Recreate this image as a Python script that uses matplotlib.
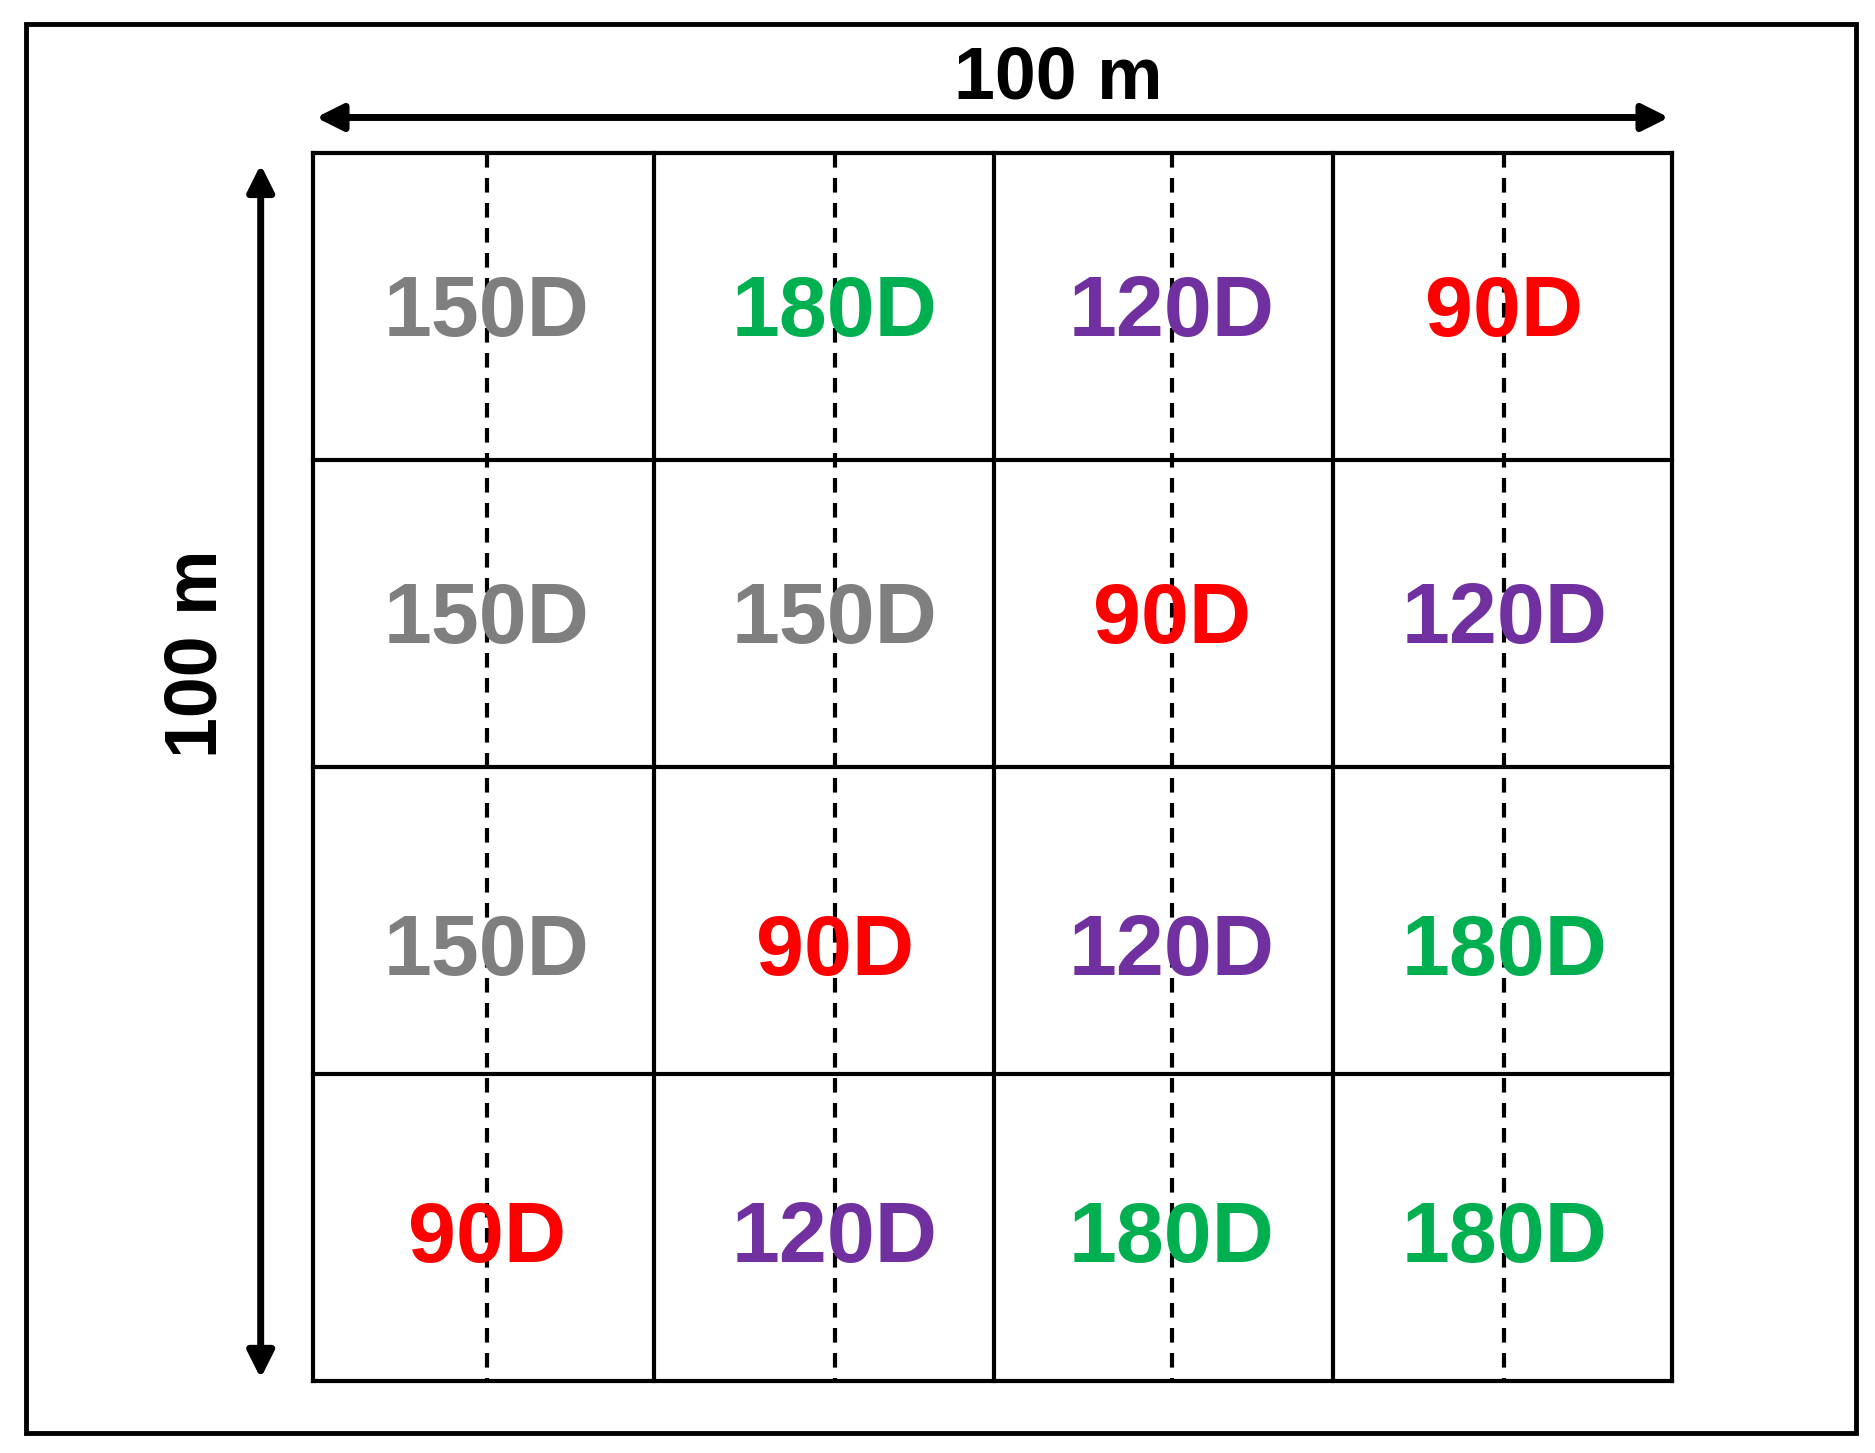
import matplotlib
matplotlib.use("Agg")
import matplotlib.pyplot as plt

labels = [["150D", "180D", "120D", "90D"],
          ["150D", "150D", "90D", "120D"],
          ["150D", "90D", "120D", "180D"],
          ["90D", "120D", "180D", "180D"]]
colors = {"150D": "#7f7f7f", "180D": "#00b050", "120D": "#7030a0", "90D": "#ff0000"}
col_edges = [262, 547, 831, 1115, 1398]
row_edges = [128, 384, 640, 896, 1152]
dash_x = [407, 698, 980, 1258]
text_y = [262, 518, 795, 1034]

fig = plt.figure(figsize=(18.75, 14.53), dpi=100)
ax = fig.add_axes([0, 0, 1, 1])
ax.set_xlim(0, 1568); ax.set_ylim(1212, 0); ax.axis("off")
font = "Liberation Sans"

ax.add_patch(plt.Rectangle((22, 20), 1530, 1175, fill=False, lw=3.5, color="black"))
for x in col_edges:
    ax.plot([x, x], [row_edges[0], row_edges[-1]], color="black", lw=3)
for y in row_edges:
    ax.plot([col_edges[0], col_edges[-1]], [y, y], color="black", lw=3)
for x in dash_x:
    ax.plot([x, x], [row_edges[0], row_edges[-1]], color="black", lw=3, ls=(0, (3.5, 2.5)))
for r, row in enumerate(labels):
    for c, lab in enumerate(row):
        ax.text(dash_x[c], text_y[r], lab, ha="center", va="center", fontsize=62,
                fontweight="bold", color=colors[lab], family=font)

ax.annotate("", xy=(262, 98), xytext=(1398, 98),
            arrowprops=dict(arrowstyle="<|-|>", lw=5, color="black", mutation_scale=40))
ax.annotate("", xy=(218, 135), xytext=(218, 1152),
            arrowprops=dict(arrowstyle="<|-|>", lw=5, color="black", mutation_scale=40))
ax.text(885, 66, "100 m", ha="center", va="center", fontsize=53, fontweight="bold", family=font)
ax.text(165, 545, "100 m", ha="center", va="center", fontsize=53, fontweight="bold",
        rotation=90, family=font)

fig.savefig("out.png", dpi=100, facecolor="white")
